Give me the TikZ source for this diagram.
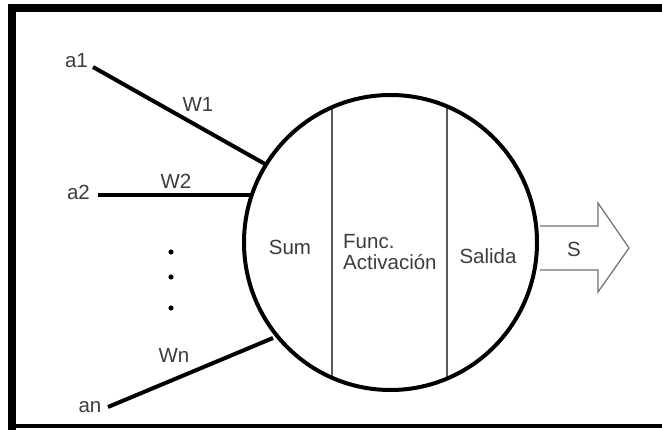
\documentclass[tikz,border=0pt]{standalone}
\usepackage{fontspec}
\setmainfont{Liberation Sans}
\definecolor{txtgray}{HTML}{3C3C3C}
\definecolor{divgray}{HTML}{5A5A5A}
\definecolor{arrgray}{HTML}{6E6E6E}
\begin{document}
\begin{tikzpicture}[x=1pt,y=-1pt,
  lbl/.style={text=txtgray,font=\fontsize{20.5}{21}\selectfont,inner sep=0pt,anchor=base},
  inputline/.style={line width=4pt,black},
  divider/.style={line width=1.5pt,divgray},
  outarrow/.style={line width=1.2pt,arrgray,line join=miter}]
\useasboundingbox (0,0) rectangle (662,430);
% frame (right side lies outside the picture)
\draw[line width=8pt] (12,430) -- (12,8) -- (670,8);
\draw[line width=4pt] (8,426) -- (670,426);
% neuron body
\coordinate (c) at (390.5,242.5);
\begin{scope}
  \clip (c) ellipse [x radius=146.5pt, y radius=147.5pt];
  \draw[divider] (332,80) -- (332,410);
  \draw[divider] (447,80) -- (447,410);
\end{scope}
\draw[line width=4pt] (c) ellipse [x radius=146.5pt, y radius=147.5pt];
% inputs
\node[lbl] (a1) at (76.5,68) {a1};
\node[lbl] (a2) at (78.5,200) {a2};
\node[lbl] (an) at (90,413) {an};
\node[lbl] (w1) at (198,112) {W1};
\node[lbl] (w2) at (176,189) {W2};
\node[lbl] (wn) at (174,363) {Wn};
\coordinate (p1) at (93,67);
\coordinate (p2) at (98,195);
\coordinate (pn) at (108,407);
\coordinate (e1) at (265,164);
\coordinate (e2) at (251,195);
\coordinate (en) at (273,338);
\draw[inputline] (p1) -- (e1);
\draw[inputline] (p2) -- (e2);
\draw[inputline] (pn) -- (en);
% dots
\fill (171,252) circle (2.6pt);
\fill (171,277) circle (2.6pt);
\fill (171,308) circle (2.6pt);
% section labels
\node[lbl] (sum) at (290,255) {Sum};
\node[lbl,anchor=base west] (func) at (343,249) {Func.};
\node[lbl,anchor=base west] (act) at (343,270) {Activación};
\node[lbl] (sal) at (488,264) {Salida};
% output arrow
\draw[outarrow] (540,226) -- (598,226) -- (598,203) -- (629,248) -- (598,292) -- (598,270) -- (540,270);
\node[lbl] (s) at (574,257) {S};
\end{tikzpicture}
\end{document}
